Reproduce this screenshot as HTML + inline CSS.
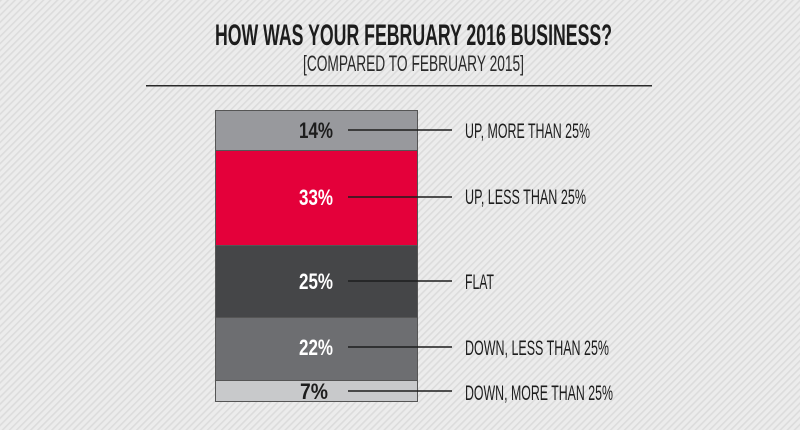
<!DOCTYPE html>
<html><head><style>
html,body{margin:0;padding:0;}
body{width:800px;height:430px;overflow:hidden;}
</style></head><body>
<svg width="800" height="430" xmlns="http://www.w3.org/2000/svg" font-family="Liberation Sans, sans-serif">
<defs>
<pattern id="p" width="5" height="5" patternUnits="userSpaceOnUse" patternTransform="rotate(-45)">
<rect width="5" height="5" fill="#ececec"/>
<rect width="5" height="1.6" fill="#dcdcdc"/>
</pattern>
</defs>
<rect width="800" height="430" fill="url(#p)"/>
<text x="215" y="45" font-size="30" font-weight="bold" fill="#1d1d1d" textLength="397" lengthAdjust="spacingAndGlyphs">HOW WAS YOUR FEBRUARY 2016 BUSINESS?</text>
<text x="303" y="71" font-size="22" fill="#2a2a2a" textLength="221" lengthAdjust="spacingAndGlyphs">[COMPARED TO FEBRUARY 2015]</text>
<rect x="146" y="85" width="506" height="1.5" fill="#2a2a2a"/>
<g stroke="#555" stroke-width="1">
<rect x="215.5" y="110.5" width="202" height="40" fill="#98999d"/>
<rect x="215.5" y="150.5" width="202" height="95" fill="#e4003a"/>
<rect x="215.5" y="245.5" width="202" height="72" fill="#454648"/>
<rect x="215.5" y="317.5" width="202" height="63" fill="#6d6e71"/>
<rect x="215.5" y="380.5" width="202" height="21" fill="#c8c9cb"/>
</g>
<g font-size="22" font-weight="bold" text-anchor="end">
<text x="333" y="138" fill="#1d1d1d" textLength="34" lengthAdjust="spacingAndGlyphs">14%</text>
<text x="333" y="205" fill="#fff" textLength="34" lengthAdjust="spacingAndGlyphs">33%</text>
<text x="333" y="289" fill="#fff" textLength="34" lengthAdjust="spacingAndGlyphs">25%</text>
<text x="333" y="355" fill="#fff" textLength="34" lengthAdjust="spacingAndGlyphs">22%</text>
<text x="328" y="399" fill="#1d1d1d" textLength="28" lengthAdjust="spacingAndGlyphs">7%</text>
</g>
<g stroke="#1d1d1d" stroke-width="1.5">
<line x1="348" y1="130" x2="452" y2="130"/>
<line x1="348" y1="197" x2="452" y2="197"/>
<line x1="348" y1="281" x2="452" y2="281"/>
<line x1="348" y1="347" x2="452" y2="347"/>
<line x1="348" y1="391" x2="452" y2="391"/>
</g>
<g font-size="21" fill="#1d1d1d">
<text x="465" y="138" textLength="125" lengthAdjust="spacingAndGlyphs">UP, MORE THAN 25%</text>
<text x="465" y="204" textLength="121" lengthAdjust="spacingAndGlyphs">UP, LESS THAN 25%</text>
<text x="465" y="289" textLength="29" lengthAdjust="spacingAndGlyphs">FLAT</text>
<text x="465" y="355" textLength="144" lengthAdjust="spacingAndGlyphs">DOWN, LESS THAN 25%</text>
<text x="465" y="400" textLength="148" lengthAdjust="spacingAndGlyphs">DOWN, MORE THAN 25%</text>
</g>
</svg>
</body></html>
